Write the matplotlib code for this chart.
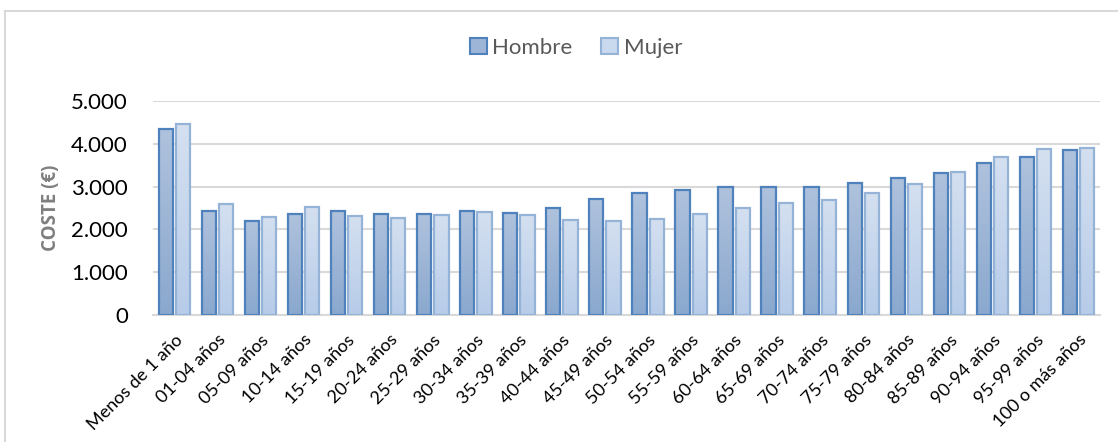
import matplotlib
matplotlib.use('Agg')
import matplotlib.pyplot as plt
import numpy as np
from matplotlib.lines import Line2D
from matplotlib.patches import Patch
from matplotlib.colors import LinearSegmentedColormap
from matplotlib.ticker import FuncFormatter

plt.rcParams['font.family'] = ['Lato', 'DejaVu Sans']

# DATA
categorias = ['Menos de 1 año', '01-04 años', '05-09 años', '10-14 años',
              '15-19 años', '20-24 años', '25-29 años', '30-34 años',
              '35-39 años', '40-44 años', '45-49 años', '50-54 años',
              '55-59 años', '60-64 años', '65-69 años', '70-74 años',
              '75-79 años', '80-84 años', '85-89 años', '90-94 años',
              '95-99 años', '100 o más años']
hombre = [4350, 2440, 2200, 2370, 2430, 2360, 2360, 2430, 2390, 2490, 2720,
          2850, 2930, 2990, 3000, 3000, 3080, 3200, 3320, 3560, 3690, 3850]
mujer = [4460, 2590, 2290, 2520, 2320, 2260, 2340, 2410, 2340, 2220, 2200,
         2240, 2350, 2500, 2620, 2690, 2840, 3050, 3350, 3680, 3870, 3910]
y_ticks = [0, 1000, 2000, 3000, 4000, 5000]

# STYLE
W, H = 1118, 442
grid_color = '#D9D9D9'
text_color = '#000000'
legend_text = '#595959'
styles = {
    'Hombre': {'top': '#AFC2DD', 'bottom': '#8AA8CE', 'edge': '#4F81BD'},
    'Mujer': {'top': '#D4E0F0', 'bottom': '#B7CCE9', 'edge': '#95B3D7'},
}
bar_w = 0.33
offset = 0.2

fig = plt.figure(figsize=(W / 100, H / 100), dpi=100)
ax = fig.add_axes([153 / W, 1 - 315 / H, (1100 - 153) / W, 214 / H])

x = np.arange(len(categorias))


def gradient_bars(xs, vals, st):
    bars = ax.bar(xs, vals, width=bar_w, facecolor='none',
                  edgecolor=st['edge'], linewidth=1.6, zorder=3)
    grad = np.linspace(0, 1, 100).reshape(-1, 1)
    cmap = LinearSegmentedColormap.from_list('g', [st['top'], st['bottom']])
    for b in bars:
        x0, y0 = b.get_x(), b.get_y()
        im = ax.imshow(grad, cmap=cmap, aspect='auto', origin='upper',
                       extent=[x0, x0 + b.get_width(), y0, y0 + b.get_height()],
                       zorder=2, interpolation='bilinear')
        im.set_clip_path(b)
    return bars


gradient_bars(x - offset, hombre, styles['Hombre'])
gradient_bars(x + offset, mujer, styles['Mujer'])

ax.set_xlim(-0.5, len(categorias) - 0.5)
ax.set_ylim(0, 5000)
ax.set_yticks(y_ticks)
ax.yaxis.set_major_formatter(FuncFormatter(lambda v, p: f'{int(v):,}'.replace(',', '.')))
ax.set_xticks(x)
ax.set_xticklabels(categorias, rotation=45, ha='right', rotation_mode='anchor',
                   fontsize=13, color=text_color)
ax.tick_params(axis='both', length=0)
ax.tick_params(axis='y', labelsize=16, labelcolor=text_color, pad=18)
ax.tick_params(axis='x', pad=12)
ax.grid(axis='y', color=grid_color, linewidth=1.5, zorder=0)
ax.set_axisbelow(True)
for s in ['top', 'right', 'left']:
    ax.spines[s].set_visible(False)
ax.spines['bottom'].set_color(grid_color)
ax.spines['bottom'].set_linewidth(1.5)

ax.set_ylabel('COSTE (€)', fontsize=13.5, fontweight='bold', color='#7F7F7F',
              family=['Open Sans', 'DejaVu Sans'])
ax.yaxis.set_label_coords(-92 / (1100 - 153), 0.5)

handles = [Patch(facecolor='#9DB5D7', edgecolor=styles['Hombre']['edge'], linewidth=1.5),
           Patch(facecolor='#C9D9EE', edgecolor=styles['Mujer']['edge'], linewidth=1.5)]
fig.legend(handles, ['Hombre', 'Mujer'], loc='center', bbox_to_anchor=(576 / W, 1 - 48 / H),
           ncol=2, frameon=False, fontsize=16, labelcolor=legend_text,
           handlelength=0.75, handleheight=0.75, handletextpad=0.25, columnspacing=1.3)

# chart area outline (top and left edges visible)
fig.add_artist(Line2D([5 / W, 1], [1 - 11 / H, 1 - 11 / H], color=grid_color, linewidth=1.5))
fig.add_artist(Line2D([5 / W, 5 / W], [0, 1 - 11 / H], color=grid_color, linewidth=1.5))

fig.savefig('out.png', dpi=100)
